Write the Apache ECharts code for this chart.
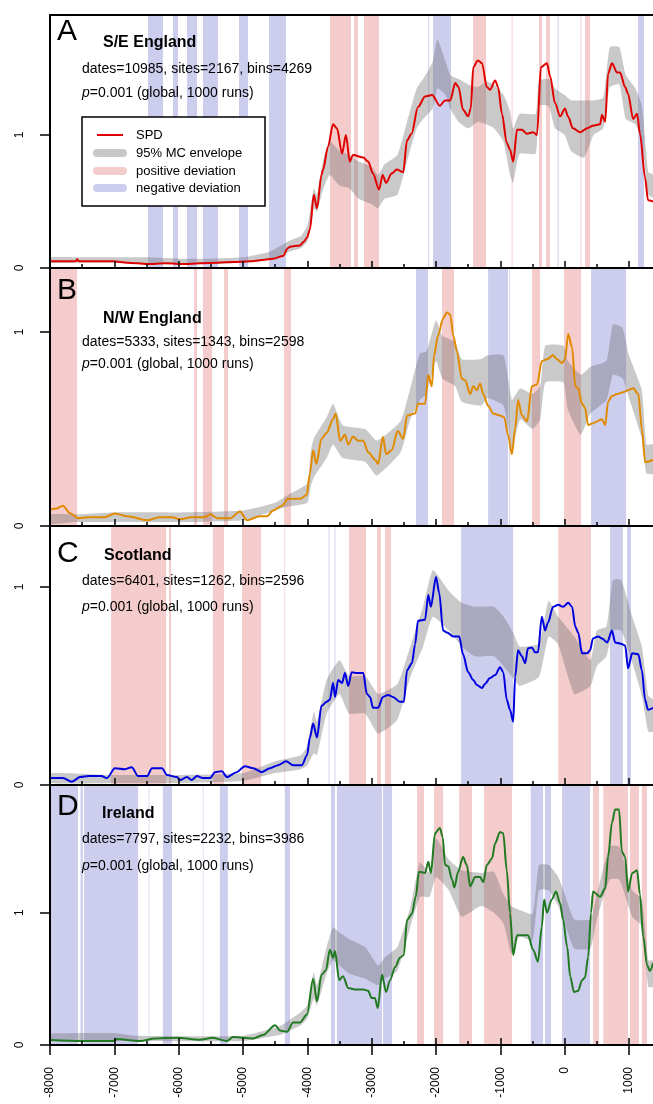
<!DOCTYPE html>
<html><head><meta charset="utf-8">
<script src="https://cdn.jsdelivr.net/npm/echarts@6/dist/echarts.min.js"></script>
<style>html,body{margin:0;padding:0;background:#fff}#c{width:653px;height:1104px}</style>
</head><body><div id="c"></div><script>
// ---------- DATA ----------
const xTickLabels = [-8000,-7000,-6000,-5000,-4000,-3000,-2000,-1000,0,1000];
const xMinorTicks = [-7500,-6500,-5500,-4500,-3500,-2500,-1500,-500,500];
const yTickLabels = [0,1];

// Panel A: S/E England
const spdYearsA = [-8000,-7800,-7600,-7580,-7550,-7300,-7020,-6800,-6490,-6200,-5900,-5670,-5400,-5150,-4890,-4700,-4530,-4380,-4300,-4270,-4115,-4050,-4005,-3960,-3900,-3850,-3780,-3755,-3680,-3600,-3540,-3460,-3400,-3340,-3290,-3130,-3055,-2980,-2885,-2830,-2775,-2690,-2610,-2510,-2450,-2380,-2280,-2170,-2060,-1940,-1860,-1780,-1700,-1650,-1580,-1500,-1460,-1420,-1350,-1285,-1210,-1160,-1080,-1035,-975,-900,-850,-800,-740,-665,-590,-490,-430,-370,-275,-225,-150,-70,5,50,130,240,350,440,550,580,630,675,735,815,860,940,985,1065,1125,1170,1250,1295,1375];
const spdA = [0.05,0.05,0.05,0.065,0.05,0.05,0.05,0.04,0.03,0.035,0.03,0.035,0.04,0.045,0.05,0.06,0.07,0.09,0.15,0.16,0.17,0.2,0.23,0.29,0.55,0.45,0.7,0.74,0.91,1.08,1.05,0.86,1.0,0.80,0.85,0.83,0.80,0.71,0.59,0.70,0.64,0.71,0.74,0.72,0.96,1.01,1.21,1.29,1.30,1.22,1.26,1.26,1.39,1.36,1.19,1.14,1.2,1.51,1.56,1.54,1.36,1.34,1.41,1.36,1.16,0.94,0.89,0.80,1.04,1.04,1.01,1.02,1.0,1.51,1.54,1.44,1.24,1.14,1.20,1.14,1.05,1.02,1.05,1.07,1.08,1.15,1.10,1.46,1.54,1.47,1.47,1.36,1.31,1.12,1.16,1.01,0.68,0.51,0.50];
const envYearsA = [-8000,-7500,-7000,-6500,-6000,-5500,-5000,-4600,-4300,-4100,-4000,-3950,-3900,-3850,-3750,-3650,-3500,-3350,-3200,-3000,-2900,-2800,-2600,-2450,-2300,-2200,-2050,-1980,-1850,-1780,-1650,-1500,-1350,-1220,-1100,-950,-850,-800,-700,-450,-400,-250,-150,0,100,300,450,600,700,850,950,1100,1200,1300,1375];
const envLowA = [0.04,0.04,0.04,0.03,0.03,0.03,0.04,0.06,0.12,0.15,0.2,0.3,0.45,0.42,0.6,0.7,0.62,0.6,0.52,0.48,0.45,0.52,0.55,0.8,1.05,1.12,1.2,1.35,1.3,1.2,1.1,1.05,1.1,1.08,1.05,0.95,0.7,0.64,0.86,0.86,1.22,1.22,1.05,1.0,0.88,0.83,1.0,1.05,1.36,1.38,1.12,1.08,0.95,0.55,0.53];
const envHighA = [0.08,0.08,0.08,0.08,0.07,0.07,0.08,0.12,0.2,0.24,0.32,0.45,0.6,0.55,0.82,0.95,0.88,0.85,0.8,0.76,0.7,0.78,0.85,1.1,1.35,1.42,1.55,1.72,1.55,1.45,1.42,1.38,1.36,1.4,1.38,1.3,1.18,1.05,1.16,1.16,1.41,1.42,1.35,1.3,1.26,1.26,1.26,1.28,1.66,1.66,1.45,1.35,1.22,0.72,0.7];
const posA = [[-3647,-3321],[-3274,-3212],[-3119,-2886],[-1424,-1222],[-825,-810],[-399,-352],[-290,-228],[245,260],[317,394]];
const negA = [[-6477,-6243],[-6088,-6010],[-5870,-5715],[-5622,-5389],[-5062,-4922],[-4596,-4331],[-2120,-2105],[-2046,-1767],[-110,-95],[1140,1234]];

// Panel B: N/W England
const spdYearsB = [-8000,-7900,-7800,-7690,-7560,-7400,-7150,-6990,-6800,-6490,-6300,-6100,-5980,-5800,-5600,-5510,-5400,-5200,-5045,-4940,-4740,-4630,-4530,-4395,-4300,-4115,-4010,-3960,-3910,-3860,-3780,-3700,-3600,-3560,-3490,-3415,-3365,-3290,-3210,-3130,-3055,-2940,-2900,-2825,-2775,-2690,-2595,-2510,-2450,-2325,-2280,-2170,-2120,-2065,-2030,-1970,-1890,-1830,-1780,-1730,-1675,-1600,-1545,-1470,-1420,-1365,-1315,-1265,-1190,-1110,-1005,-940,-880,-820,-770,-725,-665,-585,-510,-430,-355,-275,-180,-120,-40,5,55,115,165,210,270,315,365,440,580,630,675,735,815,910,985,1065,1145,1200,1250,1375];
const spdB = [0.085,0.09,0.105,0.066,0.04,0.045,0.045,0.065,0.05,0.03,0.045,0.045,0.035,0.045,0.045,0.06,0.04,0.04,0.075,0.03,0.05,0.05,0.08,0.105,0.14,0.14,0.16,0.27,0.39,0.32,0.45,0.48,0.55,0.58,0.44,0.47,0.42,0.46,0.44,0.44,0.38,0.34,0.32,0.46,0.37,0.39,0.49,0.45,0.57,0.58,0.63,0.63,0.78,0.72,0.88,0.98,1.07,1.10,1.09,0.98,0.90,0.76,0.75,0.68,0.72,0.70,0.735,0.68,0.62,0.58,0.57,0.56,0.47,0.37,0.50,0.65,0.57,0.54,0.72,0.73,0.85,0.86,0.88,0.86,0.84,0.86,0.99,0.92,0.72,0.71,0.63,0.61,0.52,0.53,0.55,0.52,0.64,0.67,0.68,0.69,0.70,0.71,0.68,0.50,0.33,0.34];
const envYearsB = [-8000,-7600,-7000,-6000,-5000,-4500,-4300,-4000,-3950,-3900,-3700,-3600,-3450,-3100,-2920,-2550,-2400,-2250,-2150,-2000,-1900,-1700,-1600,-1300,-1200,-950,-820,-690,-500,-380,-300,-20,50,250,400,650,750,900,1000,1200,1270,1375];
const envLowB = [0.01,0.02,0.02,0.02,0.03,0.08,0.1,0.12,0.2,0.25,0.35,0.42,0.35,0.33,0.26,0.38,0.55,0.65,0.68,0.85,0.76,0.72,0.64,0.62,0.66,0.62,0.40,0.55,0.5,0.55,0.74,0.74,0.6,0.47,0.58,0.65,0.78,0.76,0.66,0.45,0.27,0.27];
const envHighB = [0.06,0.06,0.07,0.07,0.08,0.12,0.16,0.22,0.38,0.45,0.56,0.63,0.52,0.5,0.44,0.54,0.71,0.89,0.9,1.06,0.98,0.95,0.86,0.86,0.88,0.88,0.65,0.71,0.68,0.72,0.93,0.93,0.85,0.78,0.82,0.85,1.04,1.02,0.88,0.7,0.42,0.42];
const posB = [[-8000,-7580],[-5760,-5715],[-5622,-5480],[-5295,-5233],[-4362,-4254],[-1907,-1720],[-507,-383],[-10,255]];
const negB = [[-2310,-2125],[-1190,-880],[-862,-850],[410,955]];

// Panel C: Scotland
const spdYearsC = [-8000,-7800,-7660,-7530,-7400,-7200,-7115,-6990,-6835,-6730,-6630,-6490,-6415,-6260,-6180,-6025,-5980,-5870,-5800,-5715,-5620,-5510,-5435,-5330,-5250,-5100,-4970,-4840,-4710,-4580,-4455,-4330,-4220,-4085,-4005,-3960,-3910,-3850,-3780,-3700,-3650,-3600,-3570,-3520,-3460,-3415,-3365,-3310,-3230,-3130,-3075,-3025,-2980,-2900,-2825,-2745,-2670,-2560,-2500,-2450,-2375,-2325,-2280,-2170,-2120,-2080,-2000,-1950,-1890,-1830,-1730,-1640,-1580,-1500,-1420,-1365,-1285,-1240,-1160,-1080,-1005,-955,-900,-850,-800,-770,-725,-665,-615,-570,-510,-460,-415,-355,-305,-260,-180,-100,-25,55,115,165,210,270,350,395,440,520,580,660,735,785,860,940,985,1050,1145,1200,1250,1295,1375];
const spdC = [0.035,0.035,0.017,0.04,0.045,0.045,0.035,0.085,0.08,0.09,0.045,0.045,0.085,0.085,0.05,0.04,0.025,0.04,0.025,0.045,0.035,0.035,0.065,0.07,0.04,0.065,0.095,0.085,0.065,0.085,0.10,0.12,0.10,0.10,0.15,0.24,0.31,0.24,0.40,0.42,0.43,0.515,0.445,0.53,0.515,0.565,0.50,0.57,0.565,0.565,0.46,0.445,0.39,0.39,0.445,0.455,0.445,0.42,0.42,0.58,0.615,0.71,0.83,0.835,0.96,0.90,1.05,0.97,0.78,0.77,0.75,0.75,0.66,0.57,0.53,0.505,0.49,0.51,0.54,0.555,0.595,0.57,0.43,0.38,0.32,0.545,0.68,0.65,0.615,0.69,0.695,0.67,0.67,0.85,0.78,0.82,0.90,0.91,0.90,0.92,0.90,0.80,0.77,0.665,0.665,0.68,0.74,0.75,0.74,0.72,0.78,0.72,0.715,0.705,0.59,0.665,0.66,0.58,0.43,0.38,0.39];
const envYearsC = [-8000,-7000,-6000,-5000,-4500,-4100,-4000,-3900,-3850,-3700,-3500,-3350,-3100,-2900,-2600,-2400,-2200,-2050,-1800,-1600,-1400,-1100,-950,-800,-700,-400,-250,-100,150,400,500,650,750,880,1050,1200,1300,1375];
const envLowC = [0.01,0.01,0.01,0.02,0.06,0.08,0.1,0.16,0.15,0.36,0.46,0.36,0.36,0.26,0.33,0.545,0.70,0.85,0.78,0.7,0.65,0.65,0.6,0.54,0.50,0.545,0.75,0.71,0.46,0.5,0.60,0.65,0.78,0.78,0.62,0.45,0.27,0.27];
const envHighC = [0.06,0.05,0.05,0.06,0.12,0.15,0.2,0.37,0.32,0.53,0.63,0.55,0.55,0.46,0.51,0.70,0.90,1.085,0.98,0.92,0.9,0.9,0.85,0.77,0.70,0.715,0.93,0.85,0.75,0.63,0.78,0.8,1.035,1.035,0.85,0.7,0.45,0.43];
const posC = [[-7050,-6195],[-6150,-6120],[-5468,-5295],[-5015,-4720],[-4356,-4345],[-3352,-3088],[-2917,-2855],[-2793,-2700],[-100,410]];
const negC = [[-3670,-3656],[-3578,-3564],[-1610,-800],[705,905],[970,1030]];

// Panel D: Ireland
const spdYearsD = [-8000,-7500,-7000,-6990,-6600,-6370,-6025,-5670,-5470,-5250,-5155,-4840,-4690,-4500,-4425,-4315,-4220,-4115,-4005,-3910,-3850,-3780,-3710,-3650,-3600,-3570,-3505,-3445,-3365,-3260,-3130,-3055,-3000,-2950,-2905,-2840,-2775,-2715,-2635,-2560,-2500,-2450,-2375,-2315,-2265,-2170,-2120,-2080,-2015,-1940,-1895,-1860,-1810,-1750,-1715,-1655,-1580,-1520,-1470,-1390,-1315,-1265,-1210,-1130,-1080,-1005,-955,-900,-850,-800,-740,-665,-570,-490,-415,-355,-320,-275,-200,-135,-70,-25,40,85,145,210,270,315,365,410,440,550,630,675,735,785,845,890,940,985,1050,1125,1170,1220,1280,1325,1375];
const spdD = [0.038,0.03,0.03,0.045,0.03,0.05,0.055,0.04,0.055,0.03,0.06,0.05,0.075,0.15,0.11,0.10,0.17,0.17,0.23,0.5,0.33,0.53,0.565,0.72,0.66,0.71,0.49,0.52,0.43,0.42,0.42,0.41,0.355,0.355,0.28,0.53,0.40,0.49,0.59,0.66,0.68,0.945,0.99,1.12,1.31,1.30,1.385,1.30,1.60,1.64,1.57,1.36,1.35,1.25,1.19,1.31,1.42,1.36,1.20,1.27,1.27,1.23,1.36,1.41,1.525,1.61,1.60,1.32,1.0,0.68,0.83,0.83,0.83,0.72,0.63,0.895,1.10,1.0,1.10,1.16,1.07,0.945,0.74,0.52,0.40,0.41,0.49,0.51,0.665,1.0,1.16,1.12,1.185,1.42,1.68,1.78,1.78,1.46,1.42,1.16,1.30,1.32,1.14,0.82,0.605,0.56,0.62];
const envYearsD = [-8000,-7000,-6700,-5000,-4500,-4400,-4100,-4000,-3900,-3850,-3700,-3600,-3500,-3350,-3100,-2900,-2800,-2600,-2400,-2250,-2100,-2000,-1800,-1600,-1300,-1100,-950,-830,-700,-500,-400,-250,-100,0,150,400,500,700,850,1050,1200,1300,1375];
const envLowD = [0.03,0.03,0.03,0.03,0.07,0.08,0.15,0.2,0.35,0.3,0.54,0.64,0.60,0.54,0.5,0.45,0.5,0.56,0.89,1.12,1.12,1.27,1.17,0.97,1.05,1.0,0.92,0.69,0.82,0.79,1.17,1.17,1.05,0.92,0.73,0.73,0.95,1.25,1.25,0.97,0.9,0.44,0.44];
const envHighD = [0.085,0.09,0.07,0.07,0.13,0.15,0.25,0.3,0.55,0.45,0.74,0.89,0.85,0.80,0.74,0.60,0.66,0.74,1.04,1.38,1.3,1.56,1.40,1.32,1.30,1.31,1.14,1.05,1.02,0.99,1.36,1.36,1.27,1.14,0.95,0.95,1.14,1.50,1.50,1.17,1.1,0.64,0.64];
const posD = [[-2295,-2186],[-2030,-1890],[-1640,-1440],[-1253,-818],[440,535],[600,985],[1015,1155],[1200,1280]];
const negD = [[-8000,-7565],[-7525,-7490],[-7470,-6630],[-6465,-6455],[-6245,-6105],[-5625,-5615],[-5360,-5235],[-4350,-4270],[-3632,-3570],[-3540,-2840],[-2823,-2683],[-527,-336],[-305,-212],[-40,395]];

// ---------- STYLE / LAYOUT ----------
const FONT = '"Liberation Sans", Arial, Helvetica, sans-serif';
const PINK = '#F4CCCC', BLUE = '#CDCDEE', ENV = 'rgba(100,100,100,0.35)';
const X_MIN = -8000, X_MAX = 1373;
const panels = [
  {label:'A', title:'S/E England', info:'dates=10985, sites=2167, bins=4269', top:15, height:253, ymax:1.902, color:'#E00000',
   yrs:spdYearsA, val:spdA, ey:envYearsA, lo:envLowA, hi:envHighA, pos:posA, neg:negA,
   ly:33.5, tx:103, ty:43, dy:69, py:93},
  {label:'B', title:'N/W England', info:'dates=5333, sites=1343, bins=2598', top:268, height:258, ymax:1.33, color:'#E08A00',
   yrs:spdYearsB, val:spdB, ey:envYearsB, lo:envLowB, hi:envHighB, pos:posB, neg:negB,
   ly:293, tx:103, ty:319, dy:342, py:364},
  {label:'C', title:'Scotland', info:'dates=6401, sites=1262, bins=2596', top:526, height:259, ymax:1.308, color:'#0000E0',
   yrs:spdYearsC, val:spdC, ey:envYearsC, lo:envLowC, hi:envHighC, pos:posC, neg:negC,
   ly:556, tx:104, ty:555.5, dy:581, py:607},
  {label:'D', title:'Ireland', info:'dates=7797, sites=2232, bins=3986', top:785, height:260, ymax:1.965, color:'#217A21',
   yrs:spdYearsD, val:spdD, ey:envYearsD, lo:envLowD, hi:envHighD, pos:posD, neg:negD,
   ly:809, tx:102, ty:814, dy:839, py:866}
];

const grid = [], xAxis = [], yAxis = [], series = [], graphic = [];
const axisLineStyle = {color:'#000', width:2};
const tickStyle = {color:'#000', width:1.5};

function xAx(i, extra) {
  return Object.assign({gridIndex:i, type:'value', min:X_MIN, max:X_MAX, interval:1000, position:'bottom', z:10,
    axisLine:{show:false, onZero:false}, axisTick:{show:false}, axisLabel:{show:false},
    splitLine:{show:false}, minorTick:{show:false}}, extra);
}

panels.forEach((p, i) => {
  grid.push({left:50, right:0, top:p.top, height:p.height});
  const xi = xAxis.length;
  xAxis.push(xAx(i, {axisLine:{show:true, onZero:false, lineStyle:axisLineStyle},
    axisTick:{show:true, inside:true, length:7, lineStyle:tickStyle, customValues:xTickLabels}}));
  xAxis.push(xAx(i, {axisTick:{show:true, inside:true, length:4, lineStyle:tickStyle, customValues:xMinorTicks}}));
  if (i === 0) {
    xAxis.push(xAx(0, {position:'top', axisLine:{show:true, onZero:false, lineStyle:axisLineStyle}}));
  }
  if (i === 3) {
    xAxis.push(xAx(3, {axisTick:{show:true, inside:false, length:10, lineStyle:tickStyle, customValues:xTickLabels},
      axisLabel:{show:true, rotate:90, margin:22, fontSize:12, color:'#000', fontFamily:FONT, customValues:xTickLabels,
        formatter: v => xTickLabels.includes(v) ? String(v) : ''}}));
  }
  yAxis.push({gridIndex:i, type:'value', min:0, max:p.ymax, interval:1, z:10,
    axisLine:{show:true, onZero:false, lineStyle:axisLineStyle},
    axisTick:{show:true, inside:false, length:10, lineStyle:tickStyle, customValues:yTickLabels},
    axisLabel:{show:true, rotate:90, margin:24, fontSize:12, color:'#000', fontFamily:FONT, customValues:yTickLabels,
      formatter: v => yTickLabels.includes(v) ? String(v) : ''},
    splitLine:{show:false}});

  const areas = [];
  p.pos.forEach(b => areas.push([{xAxis:b[0], itemStyle:{color:PINK}}, {xAxis:b[1]}]));
  p.neg.forEach(b => areas.push([{xAxis:b[0], itemStyle:{color:BLUE}}, {xAxis:b[1]}]));

  series.push({type:'line', xAxisIndex:xi, yAxisIndex:i, symbol:'none', silent:true, z:1,
    data:p.ey.map((y,k)=>[y, p.lo[k]]), lineStyle:{opacity:0},
    markArea:{silent:true, z:1, itemStyle:{borderWidth:0}, data:areas}});
  series.push({type:'custom', xAxisIndex:xi, yAxisIndex:i, silent:true, z:2,
    data:[[p.ey[0], p.lo[0]]],
    renderItem:(params, api) => {
      const pts = [];
      for (let k = 0; k < p.ey.length; k++) pts.push(api.coord([p.ey[k], p.hi[k]]));
      for (let k = p.ey.length - 1; k >= 0; k--) pts.push(api.coord([p.ey[k], p.lo[k]]));
      return {type:'polygon', shape:{points:pts, smooth:0.15}, style:{fill:ENV}};
    }});
  series.push({type:'line', xAxisIndex:xi, yAxisIndex:i, symbol:'none', silent:true, z:4,
    smooth:0.3, smoothMonotone:'x',
    data:p.yrs.map((y,k)=>[y, p.val[k]]), lineStyle:{color:p.color, width:2}});

  graphic.push({type:'text', z:100, left:57, top:p.ly - 17, style:{text:p.label, font:'30px ' + FONT, fill:'#000'}});
  graphic.push({type:'text', z:100, x:p.tx, y:p.ty, style:{text:p.title, font:'bold 16px ' + FONT, fill:'#000', verticalAlign:'middle'}});
  graphic.push({type:'text', z:100, x:82, y:p.dy, style:{text:p.info, font:'14px ' + FONT, fill:'#000', verticalAlign:'middle'}});
  graphic.push({type:'text', z:100, x:82, y:p.py, style:{text:'{i|p}=0.001 (global, 1000 runs)', font:'14px ' + FONT, fill:'#000', verticalAlign:'middle',
    rich:{i:{fontStyle:'italic', fontSize:14, fontFamily:FONT}}}});
});

// legend (panel A)
const legendItems = [
  {name:'SPD', color:'#E00000', w:2, y:135},
  {name:'95% MC envelope', color:'#C8C8C8', w:8, y:153},
  {name:'positive deviation', color:PINK, w:8, y:171},
  {name:'negative deviation', color:BLUE, w:8, y:188}
];
graphic.push({type:'rect', z:90, shape:{x:82, y:117, width:183, height:89}, style:{fill:'#fff', stroke:'#000', lineWidth:1.5}});
legendItems.forEach(it => {
  graphic.push({type:'line', z:95, shape:{x1:97, y1:it.y, x2:123, y2:it.y}, style:{stroke:it.color, lineWidth:it.w, lineCap: it.w > 2 ? 'round' : 'butt'}});
  graphic.push({type:'text', z:95, x:136, y:it.y, style:{text:it.name, font:'13px ' + FONT, fill:'#000', verticalAlign:'middle'}});
});

const chart = echarts.init(document.getElementById('c'), null, {renderer:'canvas'});
chart.setOption({animation:false, backgroundColor:'#fff', grid, xAxis, yAxis, series, graphic});
</script></body></html>
